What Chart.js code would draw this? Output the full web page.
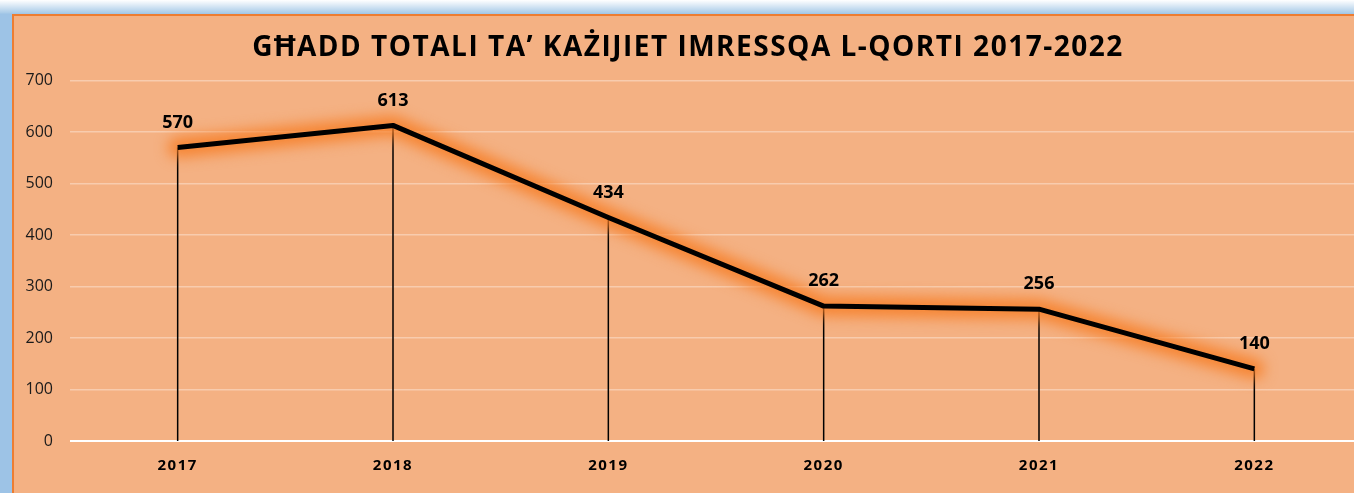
<!DOCTYPE html>
<html>
<head>
<meta charset="utf-8">
<script src="https://cdn.jsdelivr.net/npm/chart.js@4"></script>
<style>
  html, body { margin: 0; padding: 0; width: 1354px; height: 493px; overflow: hidden; background: #fff; }
  #frame {
    position: absolute; left: 0; top: 0; width: 1400px; height: 520px;
    background: linear-gradient(to bottom, #ffffff 0px, #a9cbe8 13px, #9dc3e6 14px);
  }
  #box {
    position: absolute; left: 12px; top: 14px; width: 1360px; height: 480px;
    background: #f4b183; border-left: 2px solid #ed7d31; border-top: 2px solid #ed7d31;
  }
</style>
</head>
<body>
<div id="frame"></div>
<div id="box"><canvas id="chart" width="1360" height="480"></canvas></div>
<script>
const years = ["2017", "2018", "2019", "2020", "2021", "2022"];
const cases = [570, 613, 434, 262, 256, 140];
const yTicks = [0, 100, 200, 300, 400, 500, 600, 700];
const titleText = "GĦADD TOTALI TA’ KAŻIJIET IMRESSQA L-QORTI 2017-2022";

// chart.js has no letter spacing option, so wrap the draw calls
function withSpacing(obj, method, sp) {
  if (!obj || obj["_sp_" + method]) return;
  const orig = obj[method];
  obj[method] = function (...args) {
    const ctx = this.ctx;
    const prev = ctx.letterSpacing;
    ctx.letterSpacing = sp;
    const r = orig.apply(this, args);
    ctx.letterSpacing = prev;
    return r;
  };
  obj["_sp_" + method] = true;
}

const spacing = {
  id: "spacing",
  afterLayout(chart) {
    withSpacing(chart.scales.x, "drawLabels", "1.5px");
    withSpacing(chart.titleBlock, "draw", "1.5px");
  }
};

const glowAndDrops = {
  id: "glowAndDrops",
  beforeDatasetsDraw(chart) {
    const ctx = chart.ctx;
    const pts = chart.getDatasetMeta(0).data;
    const base = chart.scales.y.getPixelForValue(0);
    // drop lines
    ctx.save();
    ctx.strokeStyle = "#000";
    ctx.lineWidth = 1.5;
    pts.forEach(p => {
      ctx.beginPath();
      ctx.moveTo(p.x, p.y);
      ctx.lineTo(p.x, base);
      ctx.stroke();
    });
    ctx.restore();
    // orange glow under the line
    ctx.save();
    ctx.filter = "blur(7px)";
    ctx.strokeStyle = "rgba(247,125,35,0.85)";
    ctx.lineWidth = 20;
    ctx.lineJoin = "round";
    ctx.lineCap = "round";
    ctx.beginPath();
    pts.forEach((p, i) => (i ? ctx.lineTo(p.x, p.y) : ctx.moveTo(p.x, p.y)));
    ctx.stroke();
    ctx.restore();
  },
  afterDatasetsDraw(chart) {
    const ctx = chart.ctx;
    const pts = chart.getDatasetMeta(0).data;
    ctx.save();
    ctx.font = "bold 18px 'Open Sans'";
    ctx.fillStyle = "#000";
    ctx.textAlign = "center";
    ctx.textBaseline = "middle";
    pts.forEach((p, i) => {
      ctx.fillText(String(cases[i]), p.x, p.y - 25);
    });
    ctx.restore();
  }
};

new Chart(document.getElementById("chart"), {
  type: "line",
  data: {
    labels: years,
    datasets: [{
      data: cases,
      borderColor: "#000",
      borderWidth: 5,
      borderJoinStyle: "round",
      pointRadius: 0,
      tension: 0,
      fill: false
    }]
  },
  options: {
    responsive: false,
    animation: false,
    layout: { padding: { left: 0, right: 12, top: 0, bottom: 0 } },
    plugins: {
      legend: { display: false },
      tooltip: { enabled: false },
      title: {
        display: true,
        text: titleText,
        color: "#000",
        font: { family: "'Open Sans'", size: 28, weight: "bold", lineHeight: 1.2 },
        padding: { top: 15, bottom: 16 }
      }
    },
    scales: {
      x: {
        offset: true,
        afterFit(s) { s.height = 55; },
        grid: { display: false, drawTicks: false },
        border: { display: false },
        ticks: { color: "#000", padding: 16, font: { family: "'Open Sans'", size: 15, weight: "bold" } }
      },
      y: {
        min: 0,
        max: 700,
        afterFit(s) { s.width = 56; },
        afterBuildTicks(s) { s.ticks = yTicks.map(v => ({ value: v })); },
        border: { display: false },
        grid: {
          drawTicks: false,
          color: c => c.tick && c.tick.value === 0 ? "#ffffff" : "rgba(255,255,255,0.35)",
          lineWidth: c => c.tick && c.tick.value === 0 ? 2 : 1.5
        },
        ticks: { color: "#1a1a1a", padding: 17, font: { family: "'Open Sans'", size: 16 } }
      }
    }
  },
  plugins: [spacing, glowAndDrops]
});
</script>
</body>
</html>
